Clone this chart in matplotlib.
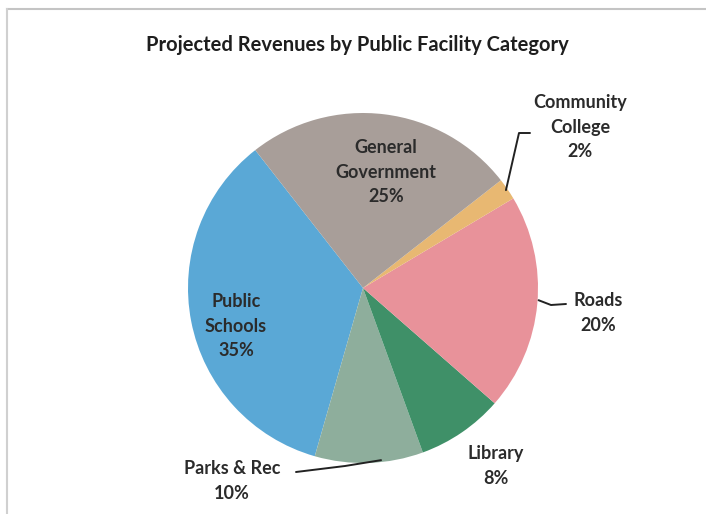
"""
Projected revenues by public facility category - pie chart
"""
import numpy as np
import matplotlib.pyplot as plt

# Data (counterclockwise from the Public Schools / General Government edge)
categories = ['Public\nSchools', 'Parks & Rec', 'Library', 'Roads',
              'Community\nCollege', 'General\nGovernment']
shares = [35, 10, 8, 20, 2, 25]
colors = ['#5aa8d6', '#8eae9c', '#3f9068', '#e8929a', '#e8b872', '#a89e99']

W, H = 706, 514
fig = plt.figure(figsize=(W / 100, H / 100), dpi=100)
fig.patch.set_facecolor('white')
ax = fig.add_axes([0, 0, 1, 1])

cx, cy, r = 363, H - 288, 175
wedges, _ = ax.pie(shares, colors=colors, startangle=128, counterclock=True,
                   center=(cx, cy), radius=r,
                   wedgeprops=dict(edgecolor='none', linewidth=0))
ax.set_xlim(0, W)
ax.set_ylim(0, H)
ax.set_aspect('equal')
ax.set_axis_off()

font = ['Lato', 'DejaVu Sans']
lab_kw = dict(ha='center', va='center', fontsize=13, fontweight='bold',
              color='#2b2b2b', family=font, linespacing=1.55)


def edge_point(w, frac=1.0):
    ang = np.deg2rad((w.theta1 + w.theta2) / 2)
    return cx + r * frac * np.cos(ang), cy + r * frac * np.sin(ang)


# label positions (pixels, y measured from top)
pos = {
    0: (236, 326),
    1: (232, 481),
    2: (496, 466),
    3: (598, 313),
    4: (580, 127),
    5: (386, 172),
}
for i, w in enumerate(wedges):
    x, y = pos[i]
    ax.text(x, H - y, f'{categories[i]}\n{shares[i]}%', **lab_kw)

# leader lines
lc = dict(color='#222222', lw=1.4, solid_capstyle='round')
# Community College
x0, y0 = edge_point(wedges[4], 0.99)
ax.plot([x0, 519, 530], [y0, H - 133, H - 133], **lc)
# Roads
x0, y0 = cx + r * np.cos(np.deg2rad(-4)), cy + r * np.sin(np.deg2rad(-4))
ax.plot([x0 + 1, 551, 566], [y0, H - 305, H - 304], **lc)
# Parks & Rec
x0, y0 = edge_point(wedges[1], 0.99)
ax.plot([296, 345, x0 + 12], [H - 472, H - 466, y0 + 1], **lc)

# title
ax.text(357, H - 45, 'Projected Revenues by Public Facility Category',
        ha='center', va='center', fontsize=14.5, fontweight='bold',
        color='#1e1e1e', family=font)

# faint chart border (top and left)
ax.plot([7, W], [H - 9, H - 9], color='#c4c4c4', lw=1.5)
ax.plot([7, 7], [H - 9, 0], color='#d0d0d0', lw=1.5)

plt.savefig('out.png', dpi=100, facecolor='white')
plt.close()
